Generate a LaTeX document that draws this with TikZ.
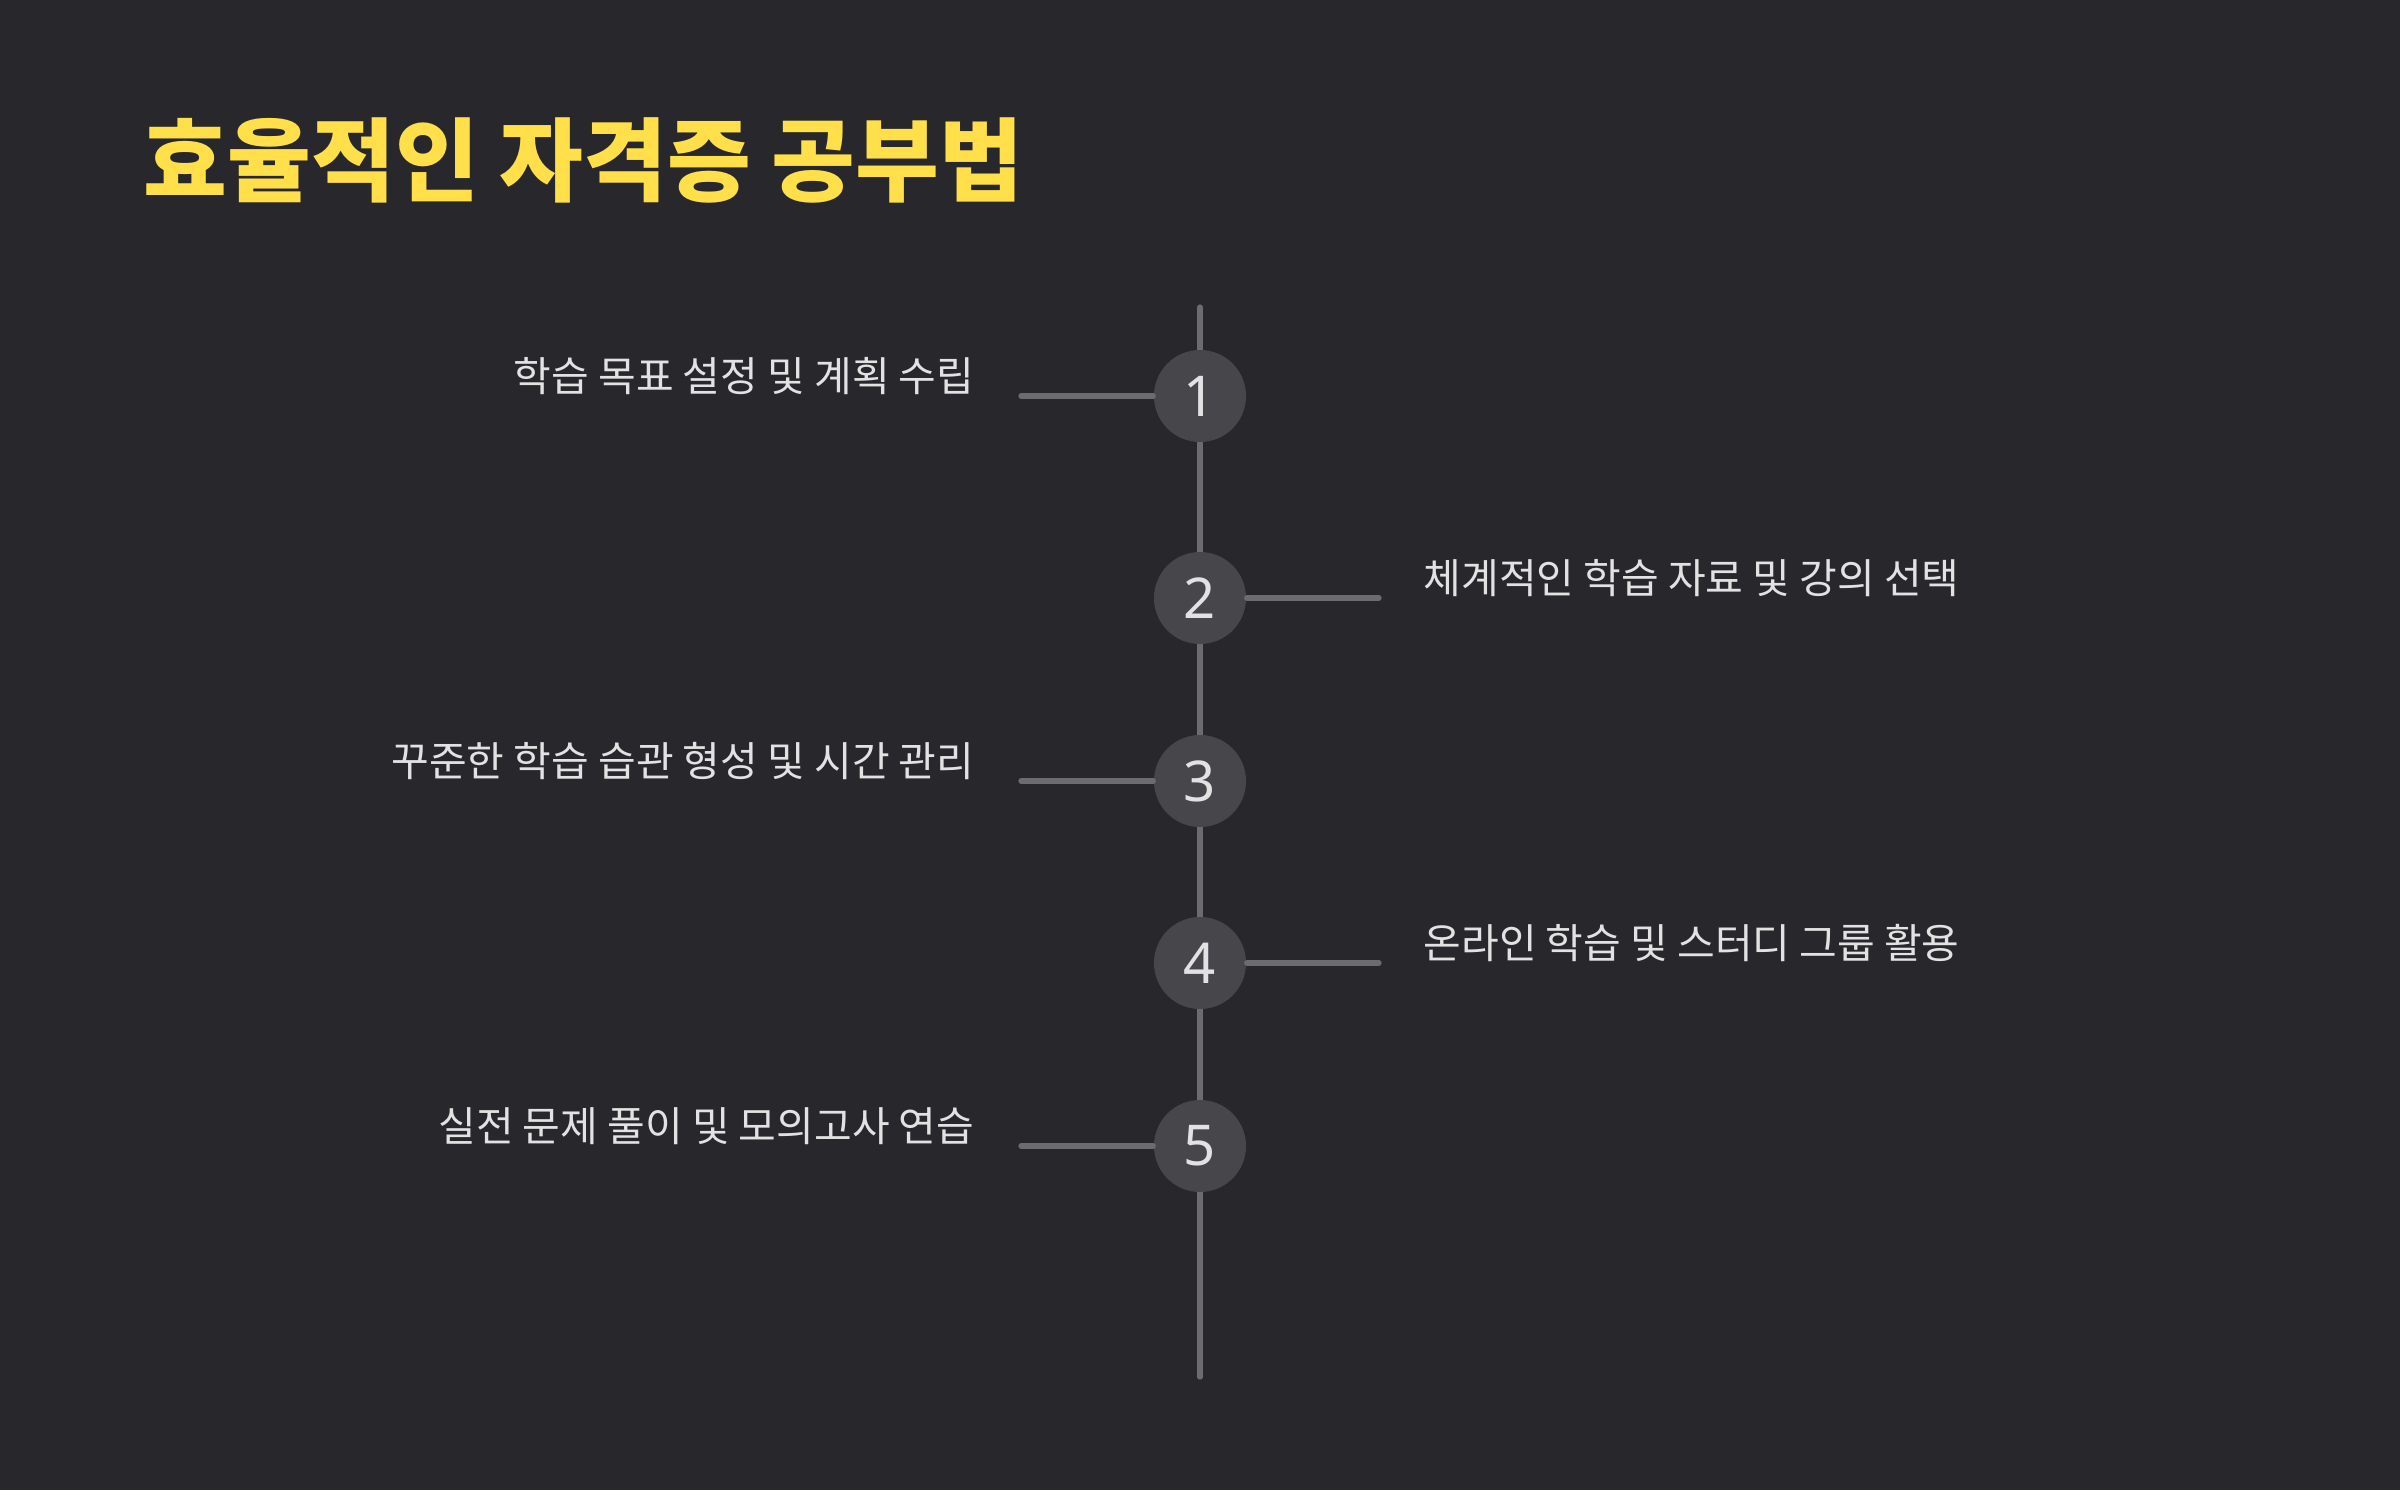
\documentclass[tikz,border=0pt]{standalone}
\usepackage{fontspec}
\setmainfont{Noto Sans CJK KR}
\newfontfamily\digitfont{Noto Sans}
\usetikzlibrary{positioning}

\definecolor{bgcol}{HTML}{28272C}
\definecolor{stepfill}{HTML}{47464B}
\definecolor{linecol}{HTML}{6C6B70}
\definecolor{textcol}{HTML}{E2E2E2}
\definecolor{titlecol}{HTML}{FFDF4A}

\tikzset{
  stepcircle/.style={shape=circle, fill=stepfill, minimum size=0.92cm, inner sep=0pt,
    text=textcol, font=\digitfont\fontsize{16pt}{18pt}\selectfont},
  steplabel/.style={inner sep=0pt, text=textcol, font=\fontsize{11.65pt}{13.5pt}\selectfont},
  axis/.style={draw=linecol, line width=1.5pt, line cap=round}
}

\begin{document}
\begin{tikzpicture}[x=0.01cm, y=-0.01cm]
			\useasboundingbox[fill=bgcol] (0,0) rectangle (2400,1490);

			\node[anchor=west, inner sep=0pt, text=titlecol, font=\bfseries\fontsize{25.9pt}{31pt}\selectfont] (title) at (143,160) {효율적인 자격증 공부법};

			\coordinate (top) at (1200,307);
			\coordinate (bottom) at (1200,1377);
			\draw[axis] (top) -- (bottom);

			\node[stepcircle] (s1) at (1200,396) {1};
			\node[stepcircle] (s2) at (1200,598) {2};
			\node[stepcircle] (s3) at (1200,781) {3};
			\node[stepcircle] (s4) at (1200,963) {4};
			\node[stepcircle] (s5) at (1200,1146) {5};

			\coordinate (e1) at (1021,396);
			\coordinate (e2) at (1379,598);
			\coordinate (e3) at (1021,781);
			\coordinate (e4) at (1379,963);
			\coordinate (e5) at (1021,1146);

			\draw[axis] (e1) -- (s1);
			\draw[axis] (s2) -- (e2);
			\draw[axis] (e3) -- (s3);
			\draw[axis] (s4) -- (e4);
			\draw[axis] (e5) -- (s5);

			\node[steplabel, anchor=east] (t1) at (975,376) {학습 목표 설정 및 계획 수립};
			\node[steplabel, anchor=west] (t2) at (1423,578) {체계적인 학습 자료 및 강의 선택};
			\node[steplabel, anchor=east] (t3) at (975,761) {꾸준한 학습 습관 형성 및 시간 관리};
			\node[steplabel, anchor=west] (t4) at (1423,943) {온라인 학습 및 스터디 그룹 활용};
			\node[steplabel, anchor=east] (t5) at (975,1126) {실전 문제 풀이 및 모의고사 연습};
		\end{tikzpicture}
\end{document}
